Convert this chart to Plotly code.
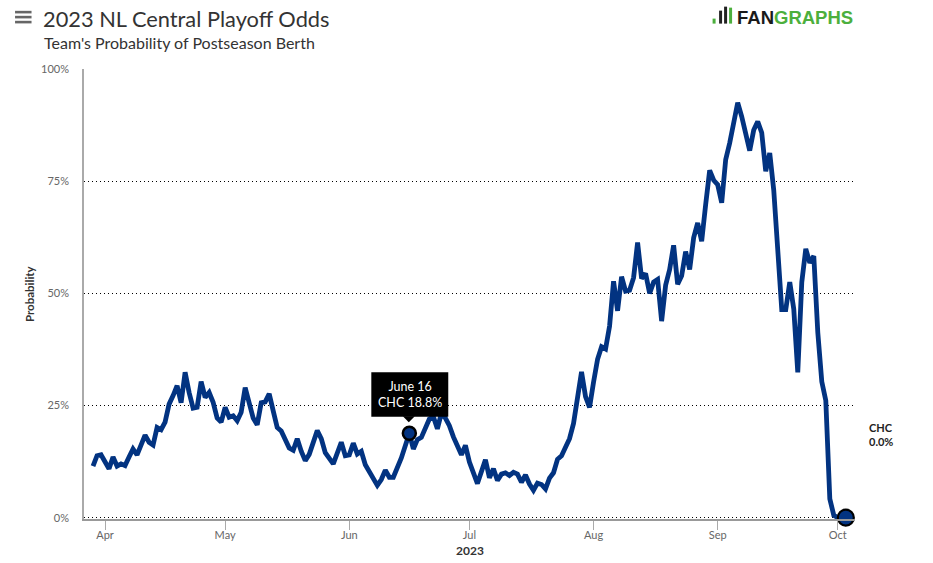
import plotly.graph_objects as go

# ---------------- data ----------------
dates = [
    "2023-03-29", "2023-03-30", "2023-03-31", "2023-04-01", "2023-04-02", "2023-04-03", "2023-04-04",
    "2023-04-05", "2023-04-06", "2023-04-07", "2023-04-08", "2023-04-09", "2023-04-10", "2023-04-11",
    "2023-04-12", "2023-04-13", "2023-04-14", "2023-04-15", "2023-04-16", "2023-04-17", "2023-04-18",
    "2023-04-19", "2023-04-20", "2023-04-21", "2023-04-22", "2023-04-23", "2023-04-24", "2023-04-25",
    "2023-04-26", "2023-04-27", "2023-04-28", "2023-04-29", "2023-04-30", "2023-05-01", "2023-05-02",
    "2023-05-03", "2023-05-04", "2023-05-05", "2023-05-06", "2023-05-07", "2023-05-08", "2023-05-09",
    "2023-05-10", "2023-05-11", "2023-05-12", "2023-05-13", "2023-05-14", "2023-05-15", "2023-05-16",
    "2023-05-17", "2023-05-18", "2023-05-19", "2023-05-20", "2023-05-21", "2023-05-22", "2023-05-24",
    "2023-05-25", "2023-05-26", "2023-05-28", "2023-05-30", "2023-05-31", "2023-06-01", "2023-06-02",
    "2023-06-03", "2023-06-04", "2023-06-05", "2023-06-08", "2023-06-09", "2023-06-10", "2023-06-11",
    "2023-06-12", "2023-06-14", "2023-06-16", "2023-06-17", "2023-06-18", "2023-06-19", "2023-06-21",
    "2023-06-22", "2023-06-23", "2023-06-24", "2023-06-25", "2023-06-26", "2023-06-27", "2023-06-28",
    "2023-06-29", "2023-06-30", "2023-07-01", "2023-07-03", "2023-07-05", "2023-07-06", "2023-07-07",
    "2023-07-08", "2023-07-09", "2023-07-10", "2023-07-11", "2023-07-12", "2023-07-13", "2023-07-14",
    "2023-07-15", "2023-07-16", "2023-07-17", "2023-07-18", "2023-07-19", "2023-07-20", "2023-07-21",
    "2023-07-22", "2023-07-23", "2023-07-24", "2023-07-26", "2023-07-27", "2023-07-29", "2023-07-30",
    "2023-07-31", "2023-08-01", "2023-08-02", "2023-08-03", "2023-08-04", "2023-08-05", "2023-08-06",
    "2023-08-07", "2023-08-08", "2023-08-09", "2023-08-10", "2023-08-11", "2023-08-12", "2023-08-13",
    "2023-08-14", "2023-08-15", "2023-08-16", "2023-08-17", "2023-08-18", "2023-08-19", "2023-08-20",
    "2023-08-21", "2023-08-22", "2023-08-23", "2023-08-24", "2023-08-25", "2023-08-26", "2023-08-27",
    "2023-08-28", "2023-08-29", "2023-08-30", "2023-08-31", "2023-09-01", "2023-09-02", "2023-09-03",
    "2023-09-04", "2023-09-05", "2023-09-06", "2023-09-07", "2023-09-08", "2023-09-09", "2023-09-10",
    "2023-09-11", "2023-09-12", "2023-09-13", "2023-09-14", "2023-09-15", "2023-09-17", "2023-09-18",
    "2023-09-19", "2023-09-20", "2023-09-21", "2023-09-22", "2023-09-23", "2023-09-24", "2023-09-25",
    "2023-09-26", "2023-09-27", "2023-09-28", "2023-09-29", "2023-09-30", "2023-10-01", "2023-10-02",
    "2023-10-03",
]
chc_odds = [
    11.5, 13.8, 14.0, 12.4, 10.9, 13.5, 11.5,
    12.0, 11.6, 13.5, 15.3, 14.0, 16.4, 18.4,
    16.8, 16.2, 20.1, 19.6, 21.3, 25.3, 27.2,
    29.4, 25.6, 32.4, 27.9, 24.4, 24.6, 30.3,
    26.8, 27.9, 25.7, 22.2, 21.3, 24.6, 22.4,
    22.7, 21.6, 23.5, 29.0, 25.0, 22.2, 20.7,
    25.6, 25.8, 27.6, 23.8, 20.1, 19.3, 17.6,
    15.5, 15.0, 17.6, 14.8, 12.7, 14.1, 19.4,
    17.6, 14.5, 12.0, 16.8, 13.8, 14.0, 16.6,
    14.2, 14.8, 11.8, 7.2, 8.5, 10.6, 9.0,
    9.0, 13.3, 18.8, 15.3, 17.4, 17.9, 22.0,
    22.5, 19.8, 23.3, 22.2, 20.5, 18.0, 16.2,
    14.0, 16.1, 12.4, 7.6, 12.9, 8.9, 10.9,
    8.3, 9.7, 10.0, 9.4, 10.1, 9.7, 7.9,
    9.5, 7.5, 6.1, 7.7, 7.4, 6.4, 8.8,
    10.0, 13.0, 13.8, 17.6, 21.0, 32.5, 27.0,
    24.6, 30.2, 35.3, 38.1, 37.6, 42.7, 52.7,
    46.1, 53.7, 50.5, 50.7, 53.5, 61.3, 53.3,
    54.4, 50.0, 52.5, 53.1, 43.8, 51.8, 55.3,
    60.7, 52.0, 53.9, 59.3, 55.3, 62.4, 65.7,
    61.6, 69.8, 77.4, 75.2, 74.2, 70.2, 79.8,
    83.5, 88.3, 92.5, 89.4, 85.7, 81.8, 86.4,
    88.3, 85.8, 77.2, 81.3, 73.0, 46.4, 46.4,
    52.5, 46.5, 32.4, 52.5, 59.9, 56.8, 58.3,
    41.3, 30.3, 26.1, 4.2, 0.5, 0.0, 0.0,
    0.0,
]
team = "CHC"
highlight_date = "2023-06-16"
highlight_label = "June 16"
month_ticks = ["2023-04-01", "2023-05-01", "2023-06-01", "2023-07-01",
               "2023-08-01", "2023-09-01", "2023-10-01"]
month_labels = ["Apr", "May", "Jun", "Jul", "Aug", "Sep", "Oct"]
y_ticks = [0, 25, 50, 75, 100]
y_labels = ["0%", "25%", "50%", "75%", "100%"]

# ---------------- layout geometry ----------------
W, H = 933, 563
L, R, T, B = 83.5, 855, 68.5, 519.5
LINE = "#023381"
FONT = "Lato, 'Open Sans', sans-serif"


def px(x):
    return (x - L) / (R - L)


def py(y):
    return (B - y) / (B - T)


hi_val = chc_odds[dates.index(highlight_date)]

fig = go.Figure()
fig.add_trace(go.Scatter(
    x=dates, y=chc_odds, mode="lines",
    line=dict(color=LINE, width=4.8), hoverinfo="skip", showlegend=False,
))
fig.add_trace(go.Scatter(
    x=[highlight_date], y=[hi_val], mode="markers",
    marker=dict(size=13, color=LINE, line=dict(color="#000", width=2.5)),
    hoverinfo="skip", showlegend=False, cliponaxis=False,
))
fig.add_trace(go.Scatter(
    x=[dates[-1]], y=[chc_odds[-1]], mode="markers",
    marker=dict(size=16, color=LINE, line=dict(color="#000", width=2.2)),
    hoverinfo="skip", showlegend=False, cliponaxis=False,
))

shapes = []
# hamburger icon
for yy in (11.5, 16.5, 21.5):
    shapes.append(dict(type="rect", xref="paper", yref="paper",
                       x0=px(14.5), x1=px(31), y0=py(yy - 1.3), y1=py(yy + 1.3),
                       fillcolor="#666", line=dict(width=0), layer="above"))
# logo icon (small bars)
for (x0, x1, y0, y1, c) in [(712.5, 715.5, 18, 23, "#4caf3d"),
                            (719, 722, 10, 23, "#222"),
                            (724, 727, 6, 23, "#222"),
                            (729, 732, 7, 23, "#4caf3d")]:
    shapes.append(dict(type="rect", xref="paper", yref="paper",
                       x0=px(x0), x1=px(x1), y0=py(y1), y1=py(y0),
                       fillcolor=c, line=dict(width=0), layer="above"))
# tooltip box + pointer
shapes.append(dict(type="rect", xref="paper", yref="paper",
                   x0=px(371), x1=px(448), y0=py(417), y1=py(372.5),
                   fillcolor="#000", line=dict(width=0), layer="above"))
shapes.append(dict(type="path", xref="paper", yref="paper",
                   path="M {} {} L {} {} L {} {} Z".format(px(402.5), py(416.5), px(414.5), py(416.5), px(408.5), py(422.5)),
                   fillcolor="#000", line=dict(width=0), layer="above"))

annotations = [
    dict(text="2023 NL Central Playoff Odds", x=px(40), y=py(18), xref="paper", yref="paper",
         xanchor="left", yanchor="middle", showarrow=False,
         font=dict(family=FONT, size=21.8, color="#333")),
    dict(text="Team's Probability of Postseason Berth", x=px(41), y=py(41.5), xref="paper", yref="paper",
         xanchor="left", yanchor="middle", showarrow=False,
         font=dict(family=FONT, size=16, color="#333")),
    dict(text="<b>FAN</b><b><span style='color:#4caf3d'>GRAPHS</span></b>", x=px(735), y=py(16.5),
         xref="paper", yref="paper", xanchor="left", yanchor="middle", showarrow=False,
         font=dict(family="Liberation Sans, Arial, sans-serif", size=18.5, color="#1a1a1a")),
    dict(text=highlight_label + "<br>" + team + " " + "{:.1f}%".format(hi_val),
         x=px(409.5), y=py(394.5), xref="paper", yref="paper",
         xanchor="center", yanchor="middle", showarrow=False, align="center",
         font=dict(family=FONT, size=12.5, color="#fff")),
    dict(text="<b>" + team + "</b><br><b>" + "{:.1f}%".format(chc_odds[-1]) + "</b>",
         x=px(867.5), y=py(434.5), xref="paper", yref="paper",
         xanchor="left", yanchor="middle", showarrow=False, align="left",
         font=dict(family=FONT, size=11, color="#222")),
    dict(text="<b>Probability</b>", x=px(28.5), y=0.5, xref="paper", yref="paper",
         xanchor="center", yanchor="middle", showarrow=False, textangle=-90,
         font=dict(family=FONT, size=11.5, color="#333")),
    dict(text="<b>2023</b>", x=0.5, y=py(551), xref="paper", yref="paper",
         xanchor="center", yanchor="middle", showarrow=False,
         font=dict(family=FONT, size=12, color="#333")),
]

fig.update_layout(
    width=W, height=H,
    margin=dict(l=L, r=W - R, t=T, b=H - B, pad=0),
    paper_bgcolor="#fff", plot_bgcolor="#fff",
    showlegend=False, hovermode=False,
    shapes=shapes, annotations=annotations,
    font=dict(family=FONT),
)
fig.update_xaxes(
    type="date",
    range=["2023-03-26 18:00", "2023-10-05 07:00"],
    tickvals=month_ticks, ticktext=month_labels,
    ticks="outside", ticklen=9, tickcolor="#aaa", tickwidth=1,
    showline=True, linecolor="#999", linewidth=1.5,
    showgrid=False, zeroline=False, ticklabelstandoff=-4,
    tickfont=dict(family=FONT, size=11, color="#666"),
)
fig.update_yaxes(
    range=[-0.3, 100],
    tickvals=y_ticks, ticktext=y_labels,
    ticks="", showline=True, linecolor="#aaa", linewidth=1.5,
    showgrid=True, gridcolor="#000", griddash="1px,3px", gridwidth=1,
    zeroline=False, ticklabelstandoff=11,
    tickfont=dict(family=FONT, size=11, color="#666"),
)

fig.write_html("out.html", config={"displayModeBar": False},
               post_script="document.body.style.margin='0';document.body.style.padding='0';")
